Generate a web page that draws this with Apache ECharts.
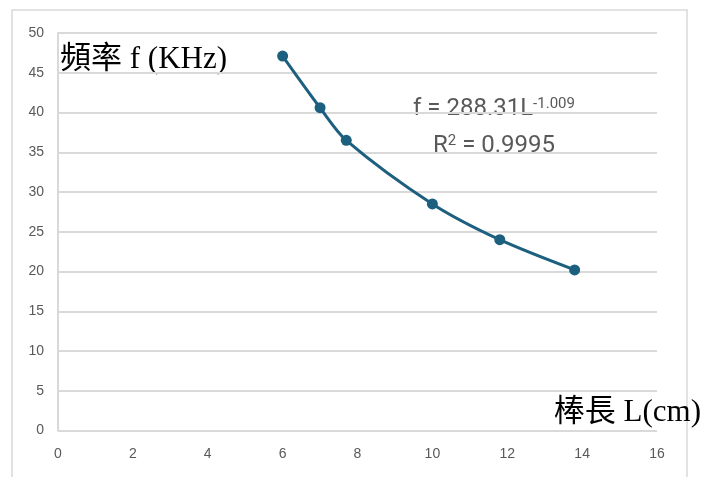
<!DOCTYPE html>
<html>
<head>
<meta charset="utf-8">
<script src="https://cdn.jsdelivr.net/npm/echarts@6/dist/echarts.min.js"></script>
<style>
  html, body { margin: 0; padding: 0; background: #fff; }
  #main { width: 713px; height: 477px; }
</style>
</head>
<body>
<div id="main"></div>
<script>
var myChart = echarts.init(document.getElementById('main'));

// rod length L (cm) and frequency f (KHz)
const rodLength = [6.0, 7.0, 7.7, 10.0, 11.8, 13.8];
const frequency = [47.1, 40.6, 36.5, 28.5, 24.0, 20.2];

const lineColor = '#1c5f7e';
const labelColor = '#595959';
const gridColor = '#d9d9d9';

let option = {
    animation: false,
    backgroundColor: '#fff',
    grid: { left: 58, top: 33, right: 56, bottom: 46.5 },
    xAxis: {
        type: 'value',
        min: 0, max: 16, interval: 2,
        axisLine: { show: false },
        axisTick: { show: false },
        splitLine: { show: false },
        axisLabel: {
            color: labelColor, fontSize: 14, margin: 17,
            fontFamily: '"Liberation Sans Narrow", "Liberation Sans", Arial'
        }
    },
    yAxis: {
        type: 'value',
        min: 0, max: 50, interval: 5,
        axisLine: { show: true, lineStyle: { color: gridColor, width: 2 } },
        axisTick: { show: false },
        splitLine: { lineStyle: { color: gridColor, width: 2 } },
        axisLabel: {
            color: labelColor, fontSize: 14, margin: 14,
            fontFamily: '"Liberation Sans Narrow", "Liberation Sans", Arial'
        }
    },
    series: [{
        type: 'line',
        smooth: 0.3,
        data: rodLength.map((l, i) => [l, frequency[i]]),
        symbol: 'circle',
        symbolSize: 11,
        lineStyle: { color: lineColor, width: 3 },
        itemStyle: { color: lineColor }
    }],
    graphic: [
        {
            type: 'rect',
            silent: true,
            shape: { x: 12, y: 10, width: 675, height: 480 },
            style: { fill: 'none', stroke: gridColor, lineWidth: 1.5 }
        },
        {
            type: 'text',
            x: 60, y: 60,
            style: {
                text: '頻率 f (KHz)',
                font: '31px "Liberation Serif", "Noto Sans CJK TC", serif',
                fill: '#000',
                verticalAlign: 'middle'
            }
        },
        {
            type: 'text',
            x: 701, y: 413,
            style: {
                text: '棒長 L(cm)',
                font: '31px "Liberation Serif", "Noto Sans CJK TC", serif',
                fill: '#000',
                align: 'right',
                verticalAlign: 'middle'
            }
        },
        {
            type: 'text',
            x: 413, y: 109,
            style: {
                text: '{a|f = 288.31L}{s|-1.009}',
                verticalAlign: 'middle',
                rich: {
                    a: { font: '24px Roboto, sans-serif', fill: labelColor, verticalAlign: 'bottom' },
                    s: { font: '15px Roboto, sans-serif', fill: labelColor, verticalAlign: 'top' }
                }
            }
        },
        {
            type: 'text',
            x: 433, y: 146,
            style: {
                text: '{a|R}{s|2}{a| = 0.9995}',
                verticalAlign: 'middle',
                rich: {
                    a: { font: '24px Roboto, sans-serif', fill: labelColor, verticalAlign: 'bottom' },
                    s: { font: '15px Roboto, sans-serif', fill: labelColor, verticalAlign: 'top' }
                }
            }
        }
    ]
};

myChart.setOption(option);
</script>
</body>
</html>
